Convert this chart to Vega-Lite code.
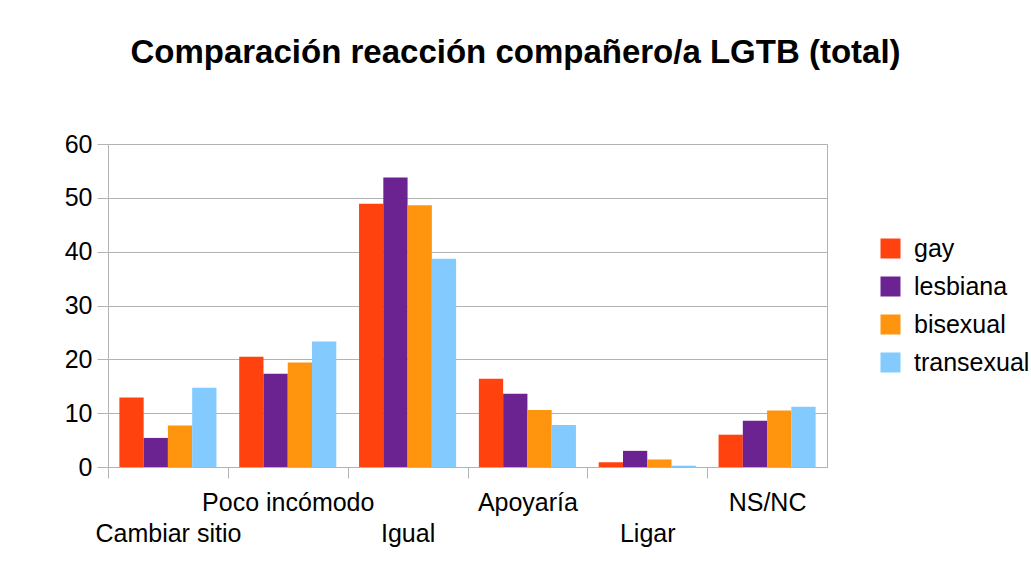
{
  "$schema": "https://vega.github.io/schema/vega-lite/v6.json",
  "width": 719,
  "height": 323,
  "autosize": {"type": "none"},
  "padding": {"left": 108, "top": 144, "right": 204, "bottom": 120},
  "background": "white",
  "title": {
    "text": "Comparación reacción compañero/a LGTB (total)",
    "font": "Liberation Sans",
    "fontSize": 33,
    "fontWeight": "bold",
    "color": "black",
    "anchor": "middle",
    "frame": "group",
    "dx": 48,
    "offset": 36,
    "baseline": "alphabetic"
  },
  "config": {
    "view": {"stroke": "#b3b3b3", "strokeWidth": 1},
    "font": "Liberation Sans"
  },
  "data": {
    "values": [
      {"categoria": "Cambiar sitio", "grupo": "gay", "valor": 12.9},
      {"categoria": "Cambiar sitio", "grupo": "lesbiana", "valor": 5.4},
      {"categoria": "Cambiar sitio", "grupo": "bisexual", "valor": 7.7},
      {"categoria": "Cambiar sitio", "grupo": "transexual", "valor": 14.7},
      {"categoria": "Poco incómodo", "grupo": "gay", "valor": 20.5},
      {"categoria": "Poco incómodo", "grupo": "lesbiana", "valor": 17.3},
      {"categoria": "Poco incómodo", "grupo": "bisexual", "valor": 19.4},
      {"categoria": "Poco incómodo", "grupo": "transexual", "valor": 23.3},
      {"categoria": "Igual", "grupo": "gay", "valor": 48.9},
      {"categoria": "Igual", "grupo": "lesbiana", "valor": 53.8},
      {"categoria": "Igual", "grupo": "bisexual", "valor": 48.6},
      {"categoria": "Igual", "grupo": "transexual", "valor": 38.7},
      {"categoria": "Apoyaría", "grupo": "gay", "valor": 16.4},
      {"categoria": "Apoyaría", "grupo": "lesbiana", "valor": 13.6},
      {"categoria": "Apoyaría", "grupo": "bisexual", "valor": 10.6},
      {"categoria": "Apoyaría", "grupo": "transexual", "valor": 7.8},
      {"categoria": "Ligar", "grupo": "gay", "valor": 0.9},
      {"categoria": "Ligar", "grupo": "lesbiana", "valor": 3.0},
      {"categoria": "Ligar", "grupo": "bisexual", "valor": 1.4},
      {"categoria": "Ligar", "grupo": "transexual", "valor": 0.25},
      {"categoria": "NS/NC", "grupo": "gay", "valor": 6.0},
      {"categoria": "NS/NC", "grupo": "lesbiana", "valor": 8.6},
      {"categoria": "NS/NC", "grupo": "bisexual", "valor": 10.5},
      {"categoria": "NS/NC", "grupo": "transexual", "valor": 11.2}
    ]
  },
  "mark": {"type": "bar"},
  "encoding": {
    "x": {
      "field": "categoria",
      "type": "nominal",
      "sort": ["Cambiar sitio", "Poco incómodo", "Igual", "Apoyaría", "Ligar", "NS/NC"],
      "scale": {"paddingInner": 0.19, "paddingOuter": 0.095},
      "axis": {
        "title": null,
        "labelAngle": 0,
        "labelFontSize": 25,
        "labelColor": "black",
        "labelFont": "Liberation Sans",
        "labelPadding": 12,
        "labelOverlap": false,
        "labelLimit": 400,
        "labelBaseline": "top",
        "labelLineHeight": 31,
        "labelExpr": "indexof(['Cambiar sitio', 'Igual', 'Ligar'], datum.value) >= 0 ? ['', datum.value] : datum.value",
        "tickOffset": -59.9,
        "labelOffset": 59.9,
        "tickSize": 11,
        "tickColor": "#b3b3b3",
        "domainColor": "#b3b3b3",
        "grid": false
      }
    },
    "xOffset": {
      "field": "grupo",
      "type": "nominal",
      "sort": ["gay", "lesbiana", "bisexual", "transexual"],
      "scale": {"paddingInner": 0, "paddingOuter": 0}
    },
    "y": {
      "field": "valor",
      "type": "quantitative",
      "scale": {"domain": [0, 60], "nice": false},
      "axis": {
        "title": null,
        "values": [0, 10, 20, 30, 40, 50, 60],
        "labelFontSize": 25,
        "labelColor": "black",
        "labelFont": "Liberation Sans",
        "labelPadding": 5,
        "tickSize": 11,
        "tickColor": "#b3b3b3",
        "domainColor": "#b3b3b3",
        "gridColor": "#b3b3b3",
        "grid": true
      }
    },
    "color": {
      "field": "grupo",
      "type": "nominal",
      "sort": ["gay", "lesbiana", "bisexual", "transexual"],
      "scale": {
        "domain": ["gay", "lesbiana", "bisexual", "transexual"],
        "range": ["#ff420e", "#6b2391", "#ff950e", "#83caff"]
      },
      "legend": {
        "title": null,
        "orient": "none",
        "legendX": 770,
        "legendY": 92,
        "symbolType": "square",
        "symbolSize": 400,
        "symbolStrokeWidth": 0,
        "labelFontSize": 25,
        "labelColor": "black",
        "labelFont": "Liberation Sans",
        "labelOffset": 11,
        "rowPadding": 12,
        "padding": 0
      }
    }
  }
}
